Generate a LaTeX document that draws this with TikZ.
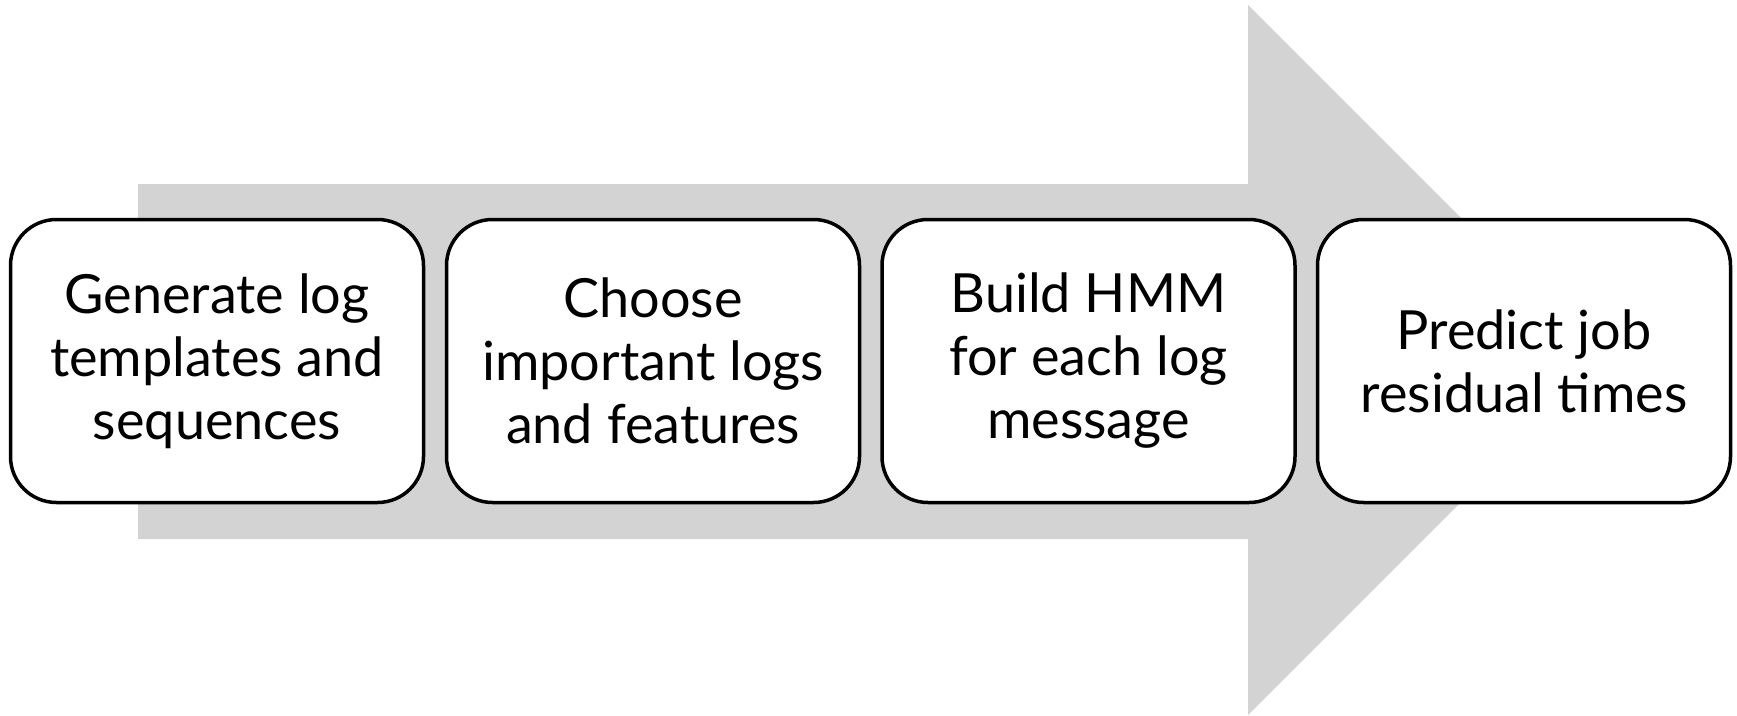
\documentclass[tikz,border=0pt]{standalone}
\usepackage{fontspec}
\setmainfont{Lato}
\definecolor{arrowgray}{RGB}{211,211,211}
\begin{document}
\begin{tikzpicture}[x=1pt,y=-1pt,
  stepbox/.style={draw=black, line width=3.5pt, fill=white, rounded corners=46pt,
    minimum width=413pt, minimum height=283pt, align=center, inner sep=0pt,
    font=\fontsize{54}{63}\selectfont},
  bigarrow/.style={fill=arrowgray, draw=none}]
\useasboundingbox (0,0) rectangle (1737,715);
\fill[bigarrow] (138,184) -- (1248,184) -- (1248,5) -- (1603,360) -- (1248,715) -- (1248,539) -- (138,539) -- cycle;
\node[stepbox] (s1) at (217,361) {Generate log\\templates and\\sequences};
\node[stepbox] (s2) at (653,361) {Choose\\important logs\\and features};
\node[stepbox] (s3) at (1088.5,361) {Build HMM\\for each log\\message};
\node[stepbox] (s4) at (1524,361) {Predict job\\residual times};
\end{tikzpicture}
\end{document}
